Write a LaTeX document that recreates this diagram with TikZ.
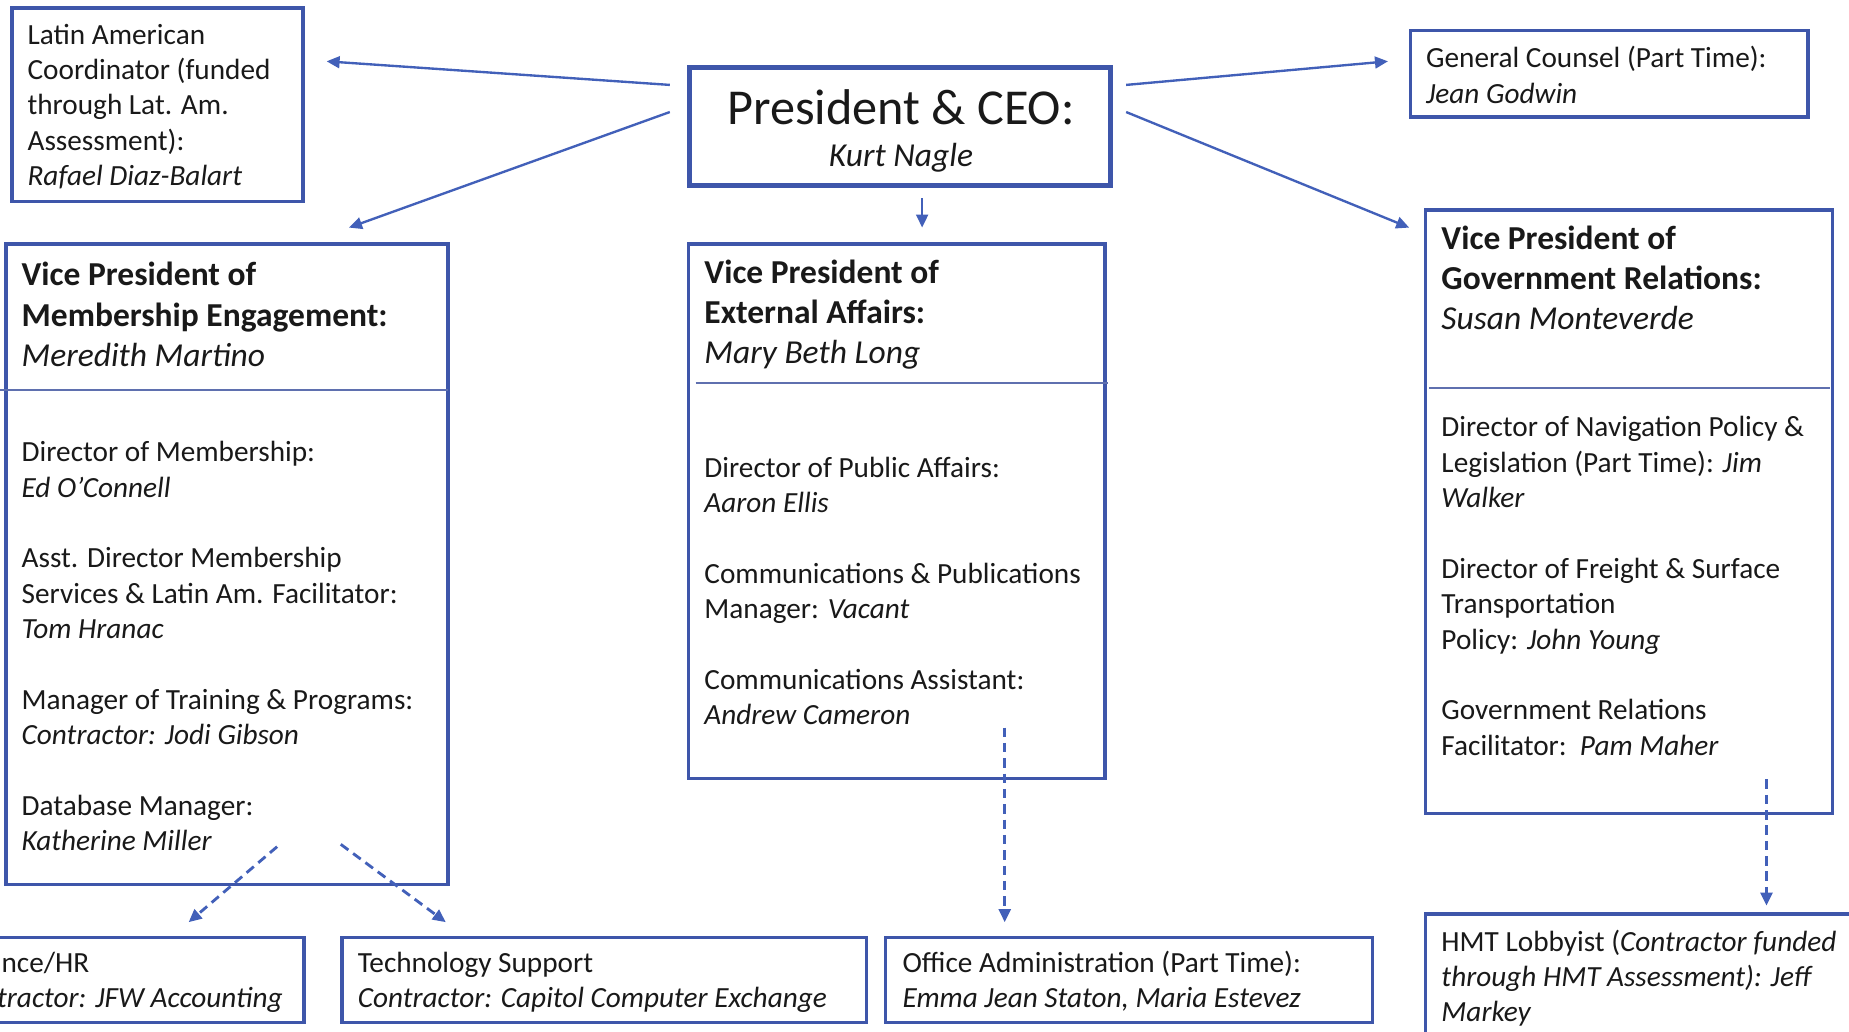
\documentclass[tikz,border=0pt]{standalone}
\usepackage{fontspec}
\setmainfont{Carlito}
\usetikzlibrary{arrows.meta,fit}
\definecolor{bbord}{RGB}{62,86,170}
\definecolor{barr}{RGB}{66,96,185}
\definecolor{tcol}{RGB}{25,25,25}
\definecolor{divc}{RGB}{95,112,175}
\newcommand{\blk}[1]{\begin{tabular}[t]{@{}l@{}}#1\end{tabular}}
\begin{document}
\begin{tikzpicture}[x=0.5pt,y=-0.5pt,
  box/.style={draw=bbord,line width=1.5pt,inner sep=0pt},
  txt/.style={anchor=base west,inner sep=0pt,text=tcol,font=\fontsize{12.4}{15}\selectfont},
  head/.style={anchor=base west,inner sep=0pt,text=tcol,font=\fontsize{14.2}{17}\selectfont},
  arr/.style={draw=barr,line width=1pt,-{Triangle[length=5.5pt,width=5pt]}},
  darr/.style={arr,line width=1.2pt,dash pattern=on 4pt off 2.5pt},
  divl/.style={draw=divc,line width=0.8pt}]
\useasboundingbox (0,0) rectangle (1568,875);
\clip (0,0) rectangle (1568,875);
\fill[white] (0,0) rectangle (1568,875);

% ---- boxes
\node[box,fit={(10,7)(257,171)}] (lat) {};
\node[box,line width=2.2pt,fit={(585,57)(942,157)}] (pres) {};
\node[box,fit={(1196,26)(1533,99)}] (gc) {};
\node[box,fit={(5,207)(380,750)}] (vpm) {};
\node[box,fit={(584,207)(937,660)}] (vpe) {};
\node[box,fit={(1209,178)(1554,690)}] (vpg) {};
\node[box,fit={(-60,795)(258,867)}] (fin) {};
\node[box,fit={(290,795)(735,867)}] (tech) {};
\node[box,fit={(751,795)(1164,867)}] (off) {};
\node[box,fit={(1209,775)(1600,900)}] (hmt) {};

% ---- dividers
\coordinate (dm1) at (0,331); \coordinate (dm2) at (380,331);
\coordinate (de1) at (590,325); \coordinate (de2) at (940,325);
\coordinate (dg1) at (1212,329); \coordinate (dg2) at (1552,329);
\draw[divl] (dm1) -- (dm2);
\draw[divl] (de1) -- (de2);
\draw[divl] (dg1) -- (dg2);

% ---- texts
\node[txt] (latt) at (23,37.5) {\blk{Latin American\\Coordinator (funded\\through Lat. Am.\\Assessment):\\\textit{Rafael Diaz-Balart}}};
\node[anchor=base,inner sep=0pt,text=tcol,font=\fontsize{21.3}{25}\selectfont] (prest) at (764,105.5) {President \& CEO:};
\node[anchor=base,inner sep=0pt,text=tcol,font=\fontsize{14.2}{17}\selectfont\itshape] (presn) at (764,141.5) {Kurt Nagle};
\node[txt] (gct) at (1209,57.5) {\blk{General Counsel (Part Time):\\\textit{Jean Godwin}}};

\node[head] (vpmh) at (18,242.5) {\blk{\textbf{Vice President of}\\\textbf{Membership Engagement:}\\\textit{Meredith Martino}}};
\node[txt] (vpmb) at (18,391.5) {\blk{Director of Membership:\\\textit{Ed O’Connell}\\ \\Asst. Director Membership\\Services \& Latin Am. Facilitator:\\\textit{Tom Hranac}\\ \\Manager of Training \& Programs:\\\textit{Contractor: Jodi Gibson}\\ \\Database Manager:\\\textit{Katherine Miller}}};

\node[head] (vpeh) at (597,240.5) {\blk{\textbf{Vice President of}\\\textbf{External Affairs:}\\\textit{Mary Beth Long}}};
\node[txt] (vpeb) at (597,404.5) {\blk{Director of Public Affairs:\\\textit{Aaron Ellis}\\ \\Communications \& Publications\\Manager: \textit{Vacant}\\ \\Communications Assistant:\\\textit{Andrew Cameron}}};

\node[head] (vpgh) at (1222,211.5) {\blk{\textbf{Vice President of}\\\textbf{Government Relations:}\\\textit{Susan Monteverde}}};
\node[txt] (vpgb) at (1222,370.5) {\blk{Director of Navigation Policy \&\\Legislation (Part Time): \textit{Jim}\\\textit{Walker}\\ \\Director of Freight \& Surface\\Transportation\\Policy: \textit{John Young}\\ \\Government Relations\\Facilitator:\ \ \textit{Pam Maher}}};

\node[txt] (fint) at (-41,824.5) {\blk{Finance/HR\\\textit{Contractor: JFW Accounting}}};
\node[txt] (techt) at (303,824.5) {\blk{Technology Support\\\textit{Contractor: Capitol Computer Exchange}}};
\node[txt] (offt) at (765,824.5) {\blk{Office Administration (Part Time):\\\textit{Emma Jean Staton, Maria Estevez}}};
\node[txt] (hmtt) at (1222,806.5) {\blk{HMT Lobbyist (\textit{Contractor funded}\\\textit{through HMT Assessment): Jeff}\\\textit{Markey}}};

% ---- connector end points
\coordinate (pl1) at (568,72);  \coordinate (latin) at (277,52);
\coordinate (pl2) at (568,95);  \coordinate (vpmin) at (296,193);
\coordinate (pr1) at (955,72);  \coordinate (gcin) at (1177,52);
\coordinate (pr2) at (955,95);  \coordinate (vpgin) at (1195,193);
\coordinate (pd) at (782,168);  \coordinate (vpein) at (782,193);
\coordinate (vm1) at (235,718); \coordinate (finin) at (160,782);
\coordinate (vm2) at (289,716); \coordinate (techin) at (378,782);
\coordinate (ve1) at (852,617); \coordinate (offin) at (852,782);
\coordinate (vg1) at (1498,661); \coordinate (hmtin) at (1498,768);

\draw[arr] (pl1) -- (latin);
\draw[arr] (pl2) -- (vpmin);
\draw[arr] (pr1) -- (gcin);
\draw[arr] (pr2) -- (vpgin);
\draw[arr] (pd) -- (vpein);
\draw[darr] (vm1) -- (finin);
\draw[darr] (vm2) -- (techin);
\draw[darr] (ve1) -- (offin);
\draw[darr] (vg1) -- (hmtin);
\end{tikzpicture}
\end{document}
